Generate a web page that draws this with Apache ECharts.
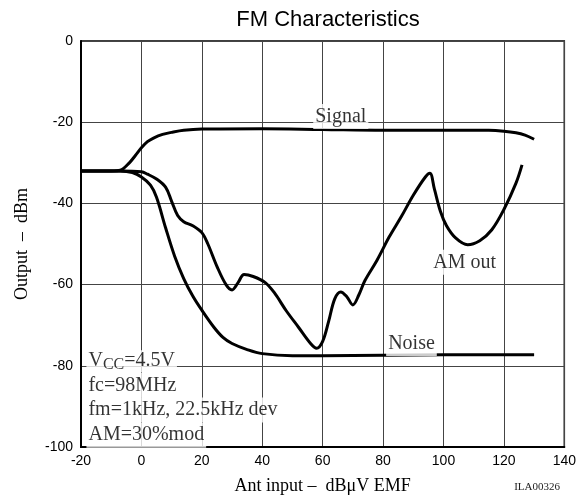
<!DOCTYPE html>
<html>
<head>
<meta charset="utf-8">
<script src="https://cdn.jsdelivr.net/npm/echarts@6/dist/echarts.min.js"></script>
<style>
  html, body { margin: 0; padding: 0; background: #fff; }
  #fm_graph { width: 579px; height: 500px; }
</style>
</head>
<body>
<div id="fm_graph"></div>
<script>
// x / y axis ticks
var xTicks = [-20, 0, 20, 40, 60, 80, 100, 120, 140];
var yTicks = [-100, -80, -60, -40, -20, 0];

// curves, [dBuV EMF, dBm]
var signalData = [
  [-20, -32], [-10, -32], [-7, -31.8], [-4, -30], [-2, -28.2], [0, -26.3], [2, -24.8],
  [4, -23.9], [7, -23], [10, -22.5], [14, -22], [20, -21.7], [40, -21.6], [60, -21.8],
  [80, -22], [100, -22], [115, -22], [120, -22.2], [124, -22.6], [127, -23.2], [130, -24.2]
];

var amOutData = [
  [-20, -32], [-7, -32], [0, -32.2], [2, -32.8], [5, -34], [8, -36], [10, -39.5],
  [12, -43], [14, -44.5], [17, -45.5], [20, -47.2], [22, -50], [25, -55.5], [28, -60],
  [30, -61.3], [32, -59.5], [34, -57.5], [37, -58], [41, -59.5], [44, -62], [48, -66.5],
  [52, -70.5], [56, -74.5], [58, -75.7], [60, -74], [62, -69], [64, -63.5], [66, -61.8],
  [68, -63], [70, -65], [72, -62.5], [74, -59], [78, -54], [82, -48.3], [86, -43.3],
  [90, -38], [94, -33.5], [95.5, -32.6], [97, -36.5], [99, -42], [101, -45.5],
  [104, -48.5], [108, -50.2], [112, -49.2], [116, -46.5], [120, -41.5], [124, -35], [126, -30.5]
];

var noiseData = [
  [-20, -32], [-7, -32], [-3, -32.4], [0, -33.5], [3, -35.5], [5, -38.5], [8, -46],
  [11, -53], [14, -58.5], [17, -62.8], [20, -66.3], [24, -70.5], [27, -73], [30, -74.5],
  [35, -76], [40, -77], [50, -77.5], [60, -77.5], [80, -77.4], [100, -77.3], [130, -77.3]
];

// annotation texts and where they sit (data coords)
var noteTexts = ['Signal', 'AM out', 'Noise',
  '{v|V}{sub|CC}{v|=4.5V}', 'fc=98MHz', 'fm=1kHz, 22.5kHz dev', 'AM=30%mod'];
var notePos = [[66, -18.6], [107, -54.5], [89.4, -74.5],
  [-18.2, -78.9], [-18.2, -84.8], [-18.2, -90.9], [-18.2, -97.1]];
var noteAlign = ['center', 'center', 'center', 'left', 'left', 'left', 'left'];

var serif = '"Liberation Serif", "DejaVu Serif", serif';
var sans = '"Liberation Sans", Arial, sans-serif';

var curve = function (name, data) {
  return {
    name: name,
    type: 'line',
    data: data,
    smooth: 0.35,
    showSymbol: false,
    silent: true,
    lineStyle: { color: '#000', width: 3 },
    z: 3
  };
};

var notes = noteTexts.map(function (t, i) {
  return {
    value: notePos[i],
    label: {
      show: true,
      position: 'inside',
      formatter: t,
      align: noteAlign[i],
      verticalAlign: 'middle',
      color: '#000',
      fontFamily: serif,
      fontSize: 20,
      lineHeight: 25,
      backgroundColor: '#fff',
      padding: [0, 2],
      rich: {
        v: { fontFamily: serif, fontSize: 20, color: '#000', verticalAlign: 'top', lineHeight: 22 },
        sub: { fontFamily: serif, fontSize: 16, color: '#000', verticalAlign: 'bottom', lineHeight: 16, padding: [9, 0, 0, 0] }
      }
    }
  };
});

var option = {
  animation: false,
  backgroundColor: '#fff',
  title: [{
    text: 'FM Characteristics',
    left: 323,
    textAlign: 'center',
    top: 4,
    textStyle: { fontFamily: sans, fontSize: 22, fontWeight: 'normal', color: '#000' }
  }, {
    text: 'ILA00326',
    right: 14,
    bottom: 2,
    textStyle: { fontFamily: serif, fontSize: 11, fontWeight: 'normal', color: '#222' }
  }],
  grid: { left: 81, right: 14, top: 41, bottom: 51, show: true, borderColor: '#000', borderWidth: 1.5 },
  xAxis: {
    type: 'value',
    min: xTicks[0],
    max: xTicks[xTicks.length - 1],
    interval: 20,
    name: 'Ant input \u2013  dB\u03bcV EMF',
    nameLocation: 'middle',
    nameGap: 30,
    nameTextStyle: { fontFamily: serif, fontSize: 18, color: '#000' },
    axisLine: { show: true, onZero: false, lineStyle: { color: '#000', width: 2 } },
    axisTick: { show: false },
    axisLabel: { color: '#000', fontFamily: sans, fontSize: 14, margin: 7 },
    splitLine: { show: true, lineStyle: { color: '#444', width: 1 } }
  },
  yAxis: {
    type: 'value',
    min: yTicks[0],
    max: yTicks[yTicks.length - 1],
    interval: 20,
    name: 'Output  \u2013  dBm',
    nameLocation: 'middle',
    nameGap: 50,
    nameTextStyle: { fontFamily: serif, fontSize: 18, color: '#000' },
    axisLine: { show: true, onZero: false, lineStyle: { color: '#000', width: 2 } },
    axisTick: { show: false },
    axisLabel: { color: '#000', fontFamily: sans, fontSize: 14, margin: 8 },
    splitLine: { show: true, lineStyle: { color: '#444', width: 1 } }
  },
  series: [
    curve('Signal', signalData),
    curve('AM out', amOutData),
    curve('Noise', noiseData),
    {
      name: 'notes',
      type: 'scatter',
      symbolSize: 0,
      silent: true,
      data: notes,
      z: 5
    }
  ]
};

var myChart = echarts.init(document.getElementById('fm_graph'));
myChart.setOption(option);
</script>
</body>
</html>
